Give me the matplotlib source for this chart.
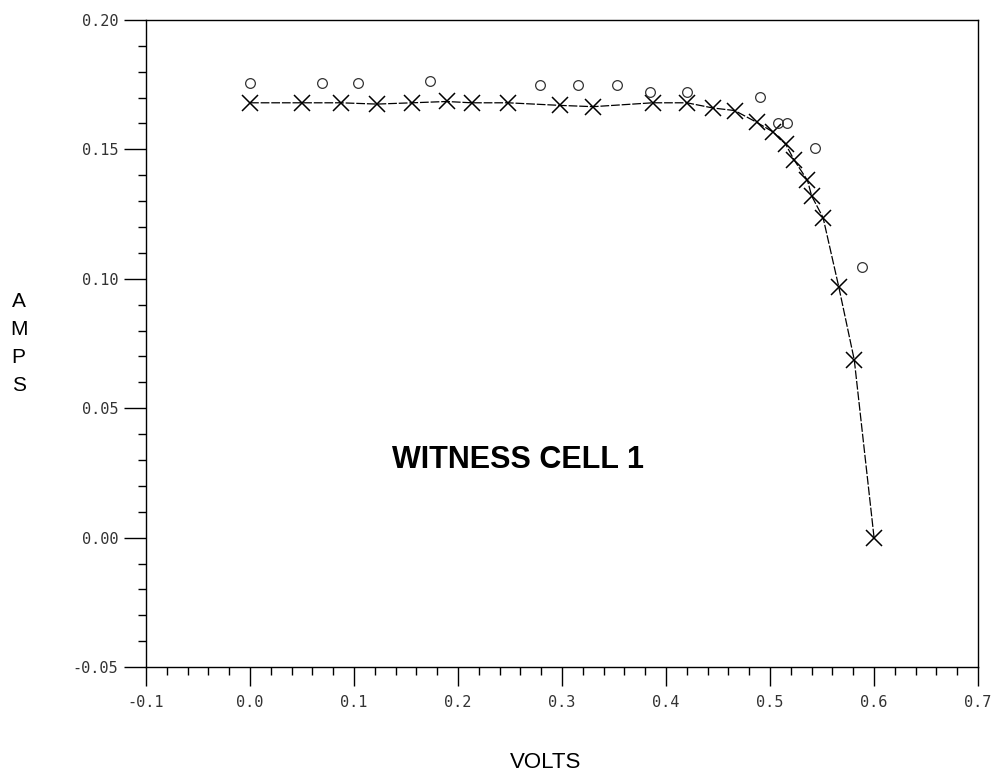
import matplotlib

matplotlib.use("Agg")
import matplotlib.pyplot as plt
from matplotlib.ticker import MultipleLocator, FormatStrFormatter

# I-V curve points (X markers, connected)
volts = [0.0, 0.050, 0.087, 0.122, 0.156, 0.189, 0.213, 0.248, 0.298, 0.330,
         0.387, 0.420, 0.445, 0.466, 0.487, 0.503, 0.515, 0.523, 0.536, 0.540,
         0.551, 0.566, 0.581, 0.600]
amps = [0.168, 0.168, 0.168, 0.1675, 0.168, 0.1685, 0.168, 0.168, 0.167, 0.1665,
        0.168, 0.168, 0.166, 0.165, 0.1605, 0.1567, 0.152, 0.146, 0.138, 0.132,
        0.1236, 0.097, 0.0686, 0.0]

# second set of points (open circles, not connected)
volts_o = [0.0, 0.069, 0.104, 0.173, 0.279, 0.315, 0.353, 0.385, 0.420, 0.490,
           0.508, 0.516, 0.543, 0.588]
amps_o = [0.1757, 0.1757, 0.1757, 0.1765, 0.175, 0.175, 0.175, 0.172, 0.172,
          0.1702, 0.160, 0.160, 0.1505, 0.1046]

x_range = (-0.1, 0.7)
y_range = (-0.05, 0.20)
title_text = "WITNESS CELL 1"

fig = plt.figure(figsize=(10.05, 7.74), dpi=100)
ax = fig.add_axes([0.1453, 0.1382, 0.8279, 0.836])

ax.plot(volts, amps, color="black", linewidth=0.9, linestyle=(0, (7, 1.5)),
        marker="x", markersize=11, markeredgewidth=1.1)
ax.plot(volts_o, amps_o, linestyle="none", marker="o", markersize=7,
        markerfacecolor="none", markeredgecolor="#333333", markeredgewidth=0.9)

ax.set_xlim(*x_range)
ax.set_ylim(*y_range)

ax.xaxis.set_major_locator(MultipleLocator(0.1))
ax.xaxis.set_minor_locator(MultipleLocator(0.02))
ax.yaxis.set_major_locator(MultipleLocator(0.05))
ax.yaxis.set_minor_locator(MultipleLocator(0.01))
ax.xaxis.set_major_formatter(FormatStrFormatter("%.1f"))
ax.yaxis.set_major_formatter(FormatStrFormatter("%.2f"))

ax.tick_params(axis="x", which="major", direction="out", length=14, width=1, pad=6)
ax.tick_params(axis="x", which="minor", direction="out", length=6, width=1)
ax.tick_params(axis="y", which="major", direction="out", length=16, width=1, pad=4)
ax.tick_params(axis="y", which="minor", direction="out", length=6, width=1)
ax.tick_params(top=False, right=False, which="both")
for lab in ax.get_xticklabels() + ax.get_yticklabels():
    lab.set_family("DejaVu Sans Mono")
    lab.set_fontsize(11)
    lab.set_color("#333333")

for side in ("left", "top", "bottom"):
    ax.spines[side].set_linestyle((0, (8, 1)))
for side in ax.spines:
    ax.spines[side].set_linewidth(1.0)
    ax.spines[side].set_color("black")

ax.set_xlabel("VOLTS", family="Liberation Sans", fontsize=16, va="center")
ax.xaxis.set_label_coords(0.48, -0.147)
ax.set_ylabel("A\nM\nP\nS", family="Liberation Sans", fontsize=15,
              rotation=0, va="center", ha="center", linespacing=1.6)
ax.yaxis.set_label_coords(-0.153, 0.50)

ax.text(0.258, 0.030, title_text, family="Liberation Sans", fontweight="bold",
        fontsize=22, ha="center", va="center")

fig.savefig("out.png", dpi=100)
